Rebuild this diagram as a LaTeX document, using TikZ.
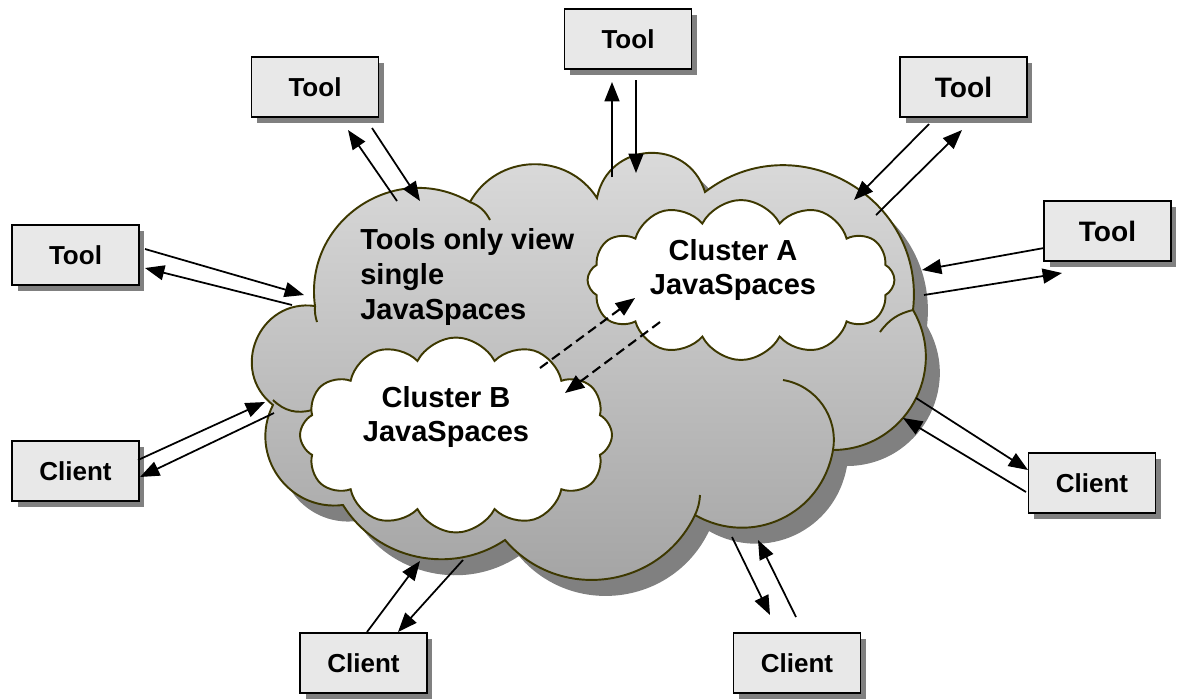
\documentclass[tikz,border=0pt]{standalone}
\usepackage{fontspec}
\setmainfont{Liberation Sans}
\usetikzlibrary{shapes.symbols, shadows, arrows.meta}
\definecolor{boxgray}{HTML}{E8E8E8}
\definecolor{shadowgray}{HTML}{808080}
\definecolor{cloudline}{HTML}{3D3800}
\definecolor{cloudtop}{HTML}{DEDEDE}
\definecolor{cloudbottom}{HTML}{A2A2A2}
\tikzset{
	box/.style={
			draw=black,
			line width=1.1pt,
			fill=boxgray,
			minimum width=2.54cm,
			minimum height=1.2cm,
			inner sep=0pt,
			font=\fontsize{14.8}{17}\selectfont\bfseries,
			drop shadow={shadow xshift=0.11cm, shadow yshift=-0.12cm, fill=shadowgray, opacity=1}
		},
	bigbox/.style={
			box,
			font=\fontsize{16}{19}\selectfont\bfseries
		},
	cluster/.style={
			cloud,
			cloud puffs=12,
			cloud puff arc=125,
			cloud ignores aspect,
			draw=cloudline,
			line width=1.1pt,
			fill=white,
			inner sep=0pt
		},
	cloudtext/.style={
			font=\fontsize{16.5}{19.8}\selectfont\bfseries,
			align=center,
			inner sep=0pt
		},
	puff/.style={
			draw=cloudline,
			line width=1.1pt
		},
	link/.style={
			line width=1pt,
			-{Triangle[length=11pt,width=8.5pt]}
		},
	dashlink/.style={
			link,
			line width=1.2pt,
			dash pattern=on 5.5pt off 3pt
		}
}
\newcommand{\bigcloud}{(273,405) to[bend left=75,looseness=1.34] (315,306)
	to[bend left=64,looseness=1.18] (470,202)
	to[bend left=59,looseness=1.12] (597,198)
	to[bend left=76,looseness=1.37] (705,192)
	to[bend left=67,looseness=1.22] (913,310)
	to[bend left=60,looseness=1.14] (833,450)
	to[bend left=55,looseness=1.1] (695,515)
	to[bend left=57,looseness=1.1] (505,540)
	to[bend left=46,looseness=1.0] (343,505)
	to[bend left=62,looseness=1.16] (273,405) -- cycle}

\begin{document}
\begin{tikzpicture}[x=0.02cm, y=-0.02cm]
\useasboundingbox (0,0) rectangle (1177,698);

\fill[shadowgray, shift={(14,16)}] \bigcloud;
\draw[puff, top color=cloudtop, bottom color=cloudbottom] \bigcloud;
\draw[puff] (470,202) to[bend left=20] (490,220);
\draw[puff] (833,450) to[bend right=45] (783,380);
\draw[puff] (695,515) to[bend right=10] (700,495);
\draw[puff] (273,400) to[bend right=30] (312,410);
\draw[puff] (913,310) to[bend right=20] (880,332);
\draw[puff] (315,306) to[bend right=10] (317,322);

\node[cluster, minimum width=6.14cm, minimum height=3.2cm] (clA) at (741,280) {};
\node[cluster, minimum width=6.24cm, minimum height=3.9cm] (clB) at (456,435) {};
\node[cloudtext] (labA) at (733,270) {Cluster A\\JavaSpaces};
\node[cloudtext] (labB) at (446,417) {Cluster B\\JavaSpaces};
\node[cloudtext, align=left, anchor=west] (note) at (360,277) {Tools only view\\single\\JavaSpaces};

\node[box] (tA) at (315,87) {Tool};
\node[box] (tB) at (628,39) {Tool};
\node[bigbox] (tC) at (963.5,87) {Tool};
\node[bigbox] (tD) at (1107.5,231) {Tool};
\node[box] (tE) at (75.5,255) {Tool};
\node[box] (cL) at (75.5,471) {Client};
\node[box] (cBL) at (363.5,663) {Client};
\node[box] (cBR) at (797,663) {Client};
\node[box] (cR) at (1092,483) {Client};

\coordinate (eA1) at (397,201);
\coordinate (eA2) at (420,201);
\coordinate (eB1) at (612,177);
\coordinate (eB2) at (636,173);
\coordinate (eC1) at (854,200);
\coordinate (eC2) at (876,215);
\coordinate (eD1) at (922,270);
\coordinate (eD2) at (924,295);
\coordinate (eE1) at (304,295);
\coordinate (eE2) at (292,305);
\coordinate (eL1) at (265,402);
\coordinate (eL2) at (274,413);
\coordinate (eBL1) at (420,561);
\coordinate (eBL2) at (463,560);
\coordinate (eBR1) at (732,537);
\coordinate (eBR2) at (758,540);
\coordinate (eR1) at (916,398);
\coordinate (eR2) at (903,418);

\draw[link] (eA1) -- ([shift={(33,43)}]tA.center);
\draw[link] ([shift={(57,41)}]tA.center) -- (eA2);
\draw[link] (eB1) -- ([shift={(-16,43)}]tB.center);
\draw[link] ([shift={(8,41)}]tB.center) -- (eB2);
\draw[link] ([shift={(-34.5,37)}]tC.center) -- (eC1);
\draw[link] (eC2) -- ([shift={(-1.5,43)}]tC.center);
\draw[link] ([shift={(-63.5,17)}]tD.center) -- (eD1);
\draw[link] (eD2) -- ([shift={(-45.5,42)}]tD.center);
\draw[link] ([shift={(69.5,-6)}]tE.center) -- (eE1);
\draw[link] (eE2) -- ([shift={(69.5,13)}]tE.center);
\draw[link] ([shift={(62.5,-11)}]cL.center) -- (eL1);
\draw[link] (eL2) -- ([shift={(64.5,6)}]cL.center);
\draw[link] ([shift={(3.5,-31)}]cBL.center) -- (eBL1);
\draw[link] (eBL2) -- ([shift={(34.5,-31)}]cBL.center);
\draw[link] (eBR1) -- ([shift={(-27,-48)}]cBR.center);
\draw[link] ([shift={(-1,-46)}]cBR.center) -- (eBR2);
\draw[link] (eR1) -- ([shift={(-64,-13)}]cR.center);
\draw[link] ([shift={(-66,9)}]cR.center) -- (eR2);

\draw[dashlink] ([shift={(84,-67)}]clB.center) -- ([shift={(-106,18)}]clA.center);
\draw[dashlink] ([shift={(-81,42)}]clA.center) -- ([shift={(109,-42)}]clB.center);
\end{tikzpicture}
\end{document}
